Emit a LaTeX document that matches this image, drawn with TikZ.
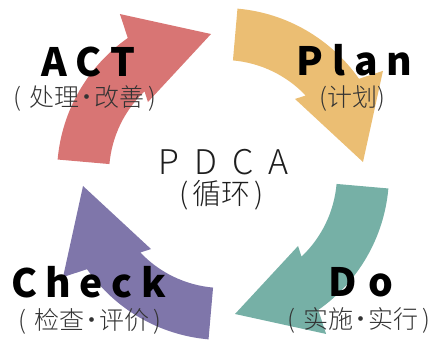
\documentclass[tikz,border=0pt]{standalone}
\usepackage{fontspec}
\newfontfamily\titlefont{Noto Sans CJK SC}[UprightFont=* Black]
\newfontfamily\cjk{Noto Sans CJK SC}[UprightFont=* Light]
\definecolor{plancol}{HTML}{EBBE73}
\definecolor{docol}{HTML}{76B0A6}
\definecolor{checkcol}{HTML}{7F76AA}
\definecolor{actcol}{HTML}{D87574}
\definecolor{subcol}{HTML}{333333}
\definecolor{maincol}{HTML}{1E1E1E}
\newcommand\mdot{\hspace{-5pt}·\hspace{-5pt}}
\tikzset{
  pics/cyclearrow/.style={code={
    \fill[#1] (85:166pt) arc[start angle=85,end angle=35,radius=166pt]
      -- (32.8:190.3pt) -- (4.9:140.5pt) -- (46.2:104pt) -- (43.5:114pt)
      arc[start angle=43.5,end angle=85,radius=114pt] -- cycle;
  }},
  title/.style={font=\titlefont\fontsize{39}{39}\selectfont, text=black, inner sep=0pt, anchor=base},
  subtitle/.style={font=\cjk\fontsize{25}{25}\selectfont, text=subcol, inner sep=0pt},
  center/.style={font=\cjk\fontsize{34}{34}\selectfont, text=maincol, inner sep=0pt, anchor=base},
  centersub/.style={font=\cjk\fontsize{29}{29}\selectfont, text=maincol, inner sep=0pt}
}
\begin{document}
\begin{tikzpicture}[x=1pt,y=1pt]
\useasboundingbox (0,0) rectangle (435,340);
\coordinate (C) at (223,166);
\pic at (C) {cyclearrow=plancol};
\pic[rotate=-90] at (C) {cyclearrow=docol};
\pic[rotate=180] at (C) {cyclearrow=checkcol};
\pic[rotate=90] at (C) {cyclearrow=actcol};
% titles
\node[title] (act) at (88.5,263) {A\hspace{9pt}C\hspace{9pt}T};
\node[title] (plan) at (354.5,264) {P\hspace{9pt}l\hspace{9pt}a\hspace{9pt}n};
\node[title] (check) at (88.5,43) {C\hspace{8.5pt}h\hspace{8.5pt}e\hspace{8.5pt}c\hspace{8.5pt}k};
\node[title] (do) at (361,44) {D\hspace{12pt}o};
% subtitles
\node[subtitle] (actsub) at (84.5,242) {(\hspace{8pt}处理\mdot 改善\hspace{4pt})};
\node[subtitle] (plansub) at (352.5,241) {(计划)};
\node[subtitle] (checksub) at (89.5,19) {(\hspace{8pt}检查\mdot 评价\hspace{4pt})};
\node[subtitle] (dosub) at (359,20) {(\hspace{8pt}实施\mdot 实行\hspace{4pt})};
% centre
\node[center] (pdca) at (223.5,165) {P\hspace{15pt}D\hspace{15pt}C\hspace{15pt}A};
\node[centersub] (cyc) at (221.5,145) {(\hspace{4pt}循环\hspace{4pt})};
\end{tikzpicture}
\end{document}
